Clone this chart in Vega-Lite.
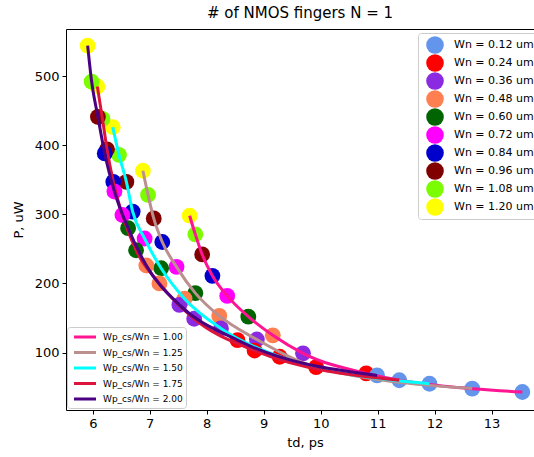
{
  "$schema": "https://vega.github.io/schema/vega-lite/v6.json",
  "autosize": {"type": "none"},
  "padding": {"left": 66, "top": 29, "right": 0, "bottom": 47},
  "width": 468,
  "height": 381,
  "background": "white",
  "config": {
    "font": "DejaVu Sans",
    "view": {"stroke": null},
    "axis": {"labelFontSize": 13, "titleFontSize": 13, "labelColor": "black", "titleColor": "black", "titleFontWeight": "normal", "tickColor": "black", "domainColor": "black", "tickSize": 4, "grid": false, "labelFont": "DejaVu Sans", "titleFont": "DejaVu Sans"}
  },
  "title": {"text": "# of NMOS fingers N = 1", "fontSize": 15, "fontWeight": "normal", "font": "DejaVu Sans", "color": "black", "offset": 8},
  "data": {"values": [
    {"s": "Wp_cs/Wn = 1.00", "wn": "Wn = 1.20 um", "td": 7.70, "p": 298},
    {"s": "Wp_cs/Wn = 1.00", "wn": "Wn = 1.08 um", "td": 7.80, "p": 271},
    {"s": "Wp_cs/Wn = 1.00", "wn": "Wn = 0.96 um", "td": 7.92, "p": 242},
    {"s": "Wp_cs/Wn = 1.00", "wn": "Wn = 0.84 um", "td": 8.10, "p": 211},
    {"s": "Wp_cs/Wn = 1.00", "wn": "Wn = 0.72 um", "td": 8.36, "p": 182},
    {"s": "Wp_cs/Wn = 1.00", "wn": "Wn = 0.60 um", "td": 8.73, "p": 152},
    {"s": "Wp_cs/Wn = 1.00", "wn": "Wn = 0.48 um", "td": 9.16, "p": 125},
    {"s": "Wp_cs/Wn = 1.00", "wn": "Wn = 0.36 um", "td": 9.69, "p": 99},
    {"s": "Wp_cs/Wn = 1.00", "wn": "Wn = 0.24 um", "td": 10.80, "p": 70},
    {"s": "Wp_cs/Wn = 1.00", "wn": "Wn = 0.12 um", "td": 13.54, "p": 43},
    {"s": "Wp_cs/Wn = 1.25", "wn": "Wn = 1.20 um", "td": 6.88, "p": 363},
    {"s": "Wp_cs/Wn = 1.25", "wn": "Wn = 1.08 um", "td": 6.97, "p": 328},
    {"s": "Wp_cs/Wn = 1.25", "wn": "Wn = 0.96 um", "td": 7.07, "p": 294},
    {"s": "Wp_cs/Wn = 1.25", "wn": "Wn = 0.84 um", "td": 7.22, "p": 260},
    {"s": "Wp_cs/Wn = 1.25", "wn": "Wn = 0.72 um", "td": 7.47, "p": 224},
    {"s": "Wp_cs/Wn = 1.25", "wn": "Wn = 0.60 um", "td": 7.80, "p": 186},
    {"s": "Wp_cs/Wn = 1.25", "wn": "Wn = 0.48 um", "td": 8.22, "p": 153},
    {"s": "Wp_cs/Wn = 1.25", "wn": "Wn = 0.36 um", "td": 8.88, "p": 119},
    {"s": "Wp_cs/Wn = 1.25", "wn": "Wn = 0.24 um", "td": 9.92, "p": 79},
    {"s": "Wp_cs/Wn = 1.25", "wn": "Wn = 0.12 um", "td": 12.66, "p": 48},
    {"s": "Wp_cs/Wn = 1.50", "wn": "Wn = 1.20 um", "td": 6.35, "p": 426},
    {"s": "Wp_cs/Wn = 1.50", "wn": "Wn = 1.08 um", "td": 6.46, "p": 386},
    {"s": "Wp_cs/Wn = 1.50", "wn": "Wn = 0.96 um", "td": 6.59, "p": 347},
    {"s": "Wp_cs/Wn = 1.50", "wn": "Wn = 0.84 um", "td": 6.70, "p": 304},
    {"s": "Wp_cs/Wn = 1.50", "wn": "Wn = 0.72 um", "td": 6.91, "p": 265},
    {"s": "Wp_cs/Wn = 1.50", "wn": "Wn = 0.60 um", "td": 7.20, "p": 222},
    {"s": "Wp_cs/Wn = 1.50", "wn": "Wn = 0.48 um", "td": 7.61, "p": 178},
    {"s": "Wp_cs/Wn = 1.50", "wn": "Wn = 0.36 um", "td": 8.25, "p": 135},
    {"s": "Wp_cs/Wn = 1.50", "wn": "Wn = 0.24 um", "td": 9.28, "p": 94},
    {"s": "Wp_cs/Wn = 1.50", "wn": "Wn = 0.12 um", "td": 11.91, "p": 55},
    {"s": "Wp_cs/Wn = 1.75", "wn": "Wn = 1.20 um", "td": 6.08, "p": 485},
    {"s": "Wp_cs/Wn = 1.75", "wn": "Wn = 1.08 um", "td": 6.17, "p": 438},
    {"s": "Wp_cs/Wn = 1.75", "wn": "Wn = 0.96 um", "td": 6.25, "p": 394},
    {"s": "Wp_cs/Wn = 1.75", "wn": "Wn = 0.84 um", "td": 6.36, "p": 347},
    {"s": "Wp_cs/Wn = 1.75", "wn": "Wn = 0.72 um", "td": 6.52, "p": 299},
    {"s": "Wp_cs/Wn = 1.75", "wn": "Wn = 0.60 um", "td": 6.76, "p": 248},
    {"s": "Wp_cs/Wn = 1.75", "wn": "Wn = 0.48 um", "td": 7.17, "p": 200},
    {"s": "Wp_cs/Wn = 1.75", "wn": "Wn = 0.36 um", "td": 7.78, "p": 149},
    {"s": "Wp_cs/Wn = 1.75", "wn": "Wn = 0.24 um", "td": 8.84, "p": 103},
    {"s": "Wp_cs/Wn = 1.75", "wn": "Wn = 0.12 um", "td": 11.38, "p": 60},
    {"s": "Wp_cs/Wn = 2.00", "wn": "Wn = 1.20 um", "td": 5.91, "p": 544},
    {"s": "Wp_cs/Wn = 2.00", "wn": "Wn = 1.08 um", "td": 5.98, "p": 492},
    {"s": "Wp_cs/Wn = 2.00", "wn": "Wn = 0.96 um", "td": 6.09, "p": 441},
    {"s": "Wp_cs/Wn = 2.00", "wn": "Wn = 0.84 um", "td": 6.21, "p": 388},
    {"s": "Wp_cs/Wn = 2.00", "wn": "Wn = 0.72 um", "td": 6.38, "p": 333},
    {"s": "Wp_cs/Wn = 2.00", "wn": "Wn = 0.60 um", "td": 6.62, "p": 280},
    {"s": "Wp_cs/Wn = 2.00", "wn": "Wn = 0.48 um", "td": 6.94, "p": 226},
    {"s": "Wp_cs/Wn = 2.00", "wn": "Wn = 0.36 um", "td": 7.52, "p": 169},
    {"s": "Wp_cs/Wn = 2.00", "wn": "Wn = 0.24 um", "td": 8.54, "p": 118},
    {"s": "Wp_cs/Wn = 2.00", "wn": "Wn = 0.12 um", "td": 10.99, "p": 67}
  ]},
  "resolve": {"axis": {"x": "independent", "y": "independent"}},
  "layer": [
    {
      "mark": {"type": "point", "shape": "circle", "filled": true, "size": 250, "opacity": 1},
      "encoding": {
        "x": {"field": "td", "type": "quantitative", "scale": {"domain": [5.53, 13.92], "range": [0, 478], "zero": false, "nice": false},
              "axis": {"title": "td, ps", "values": [6, 7, 8, 9, 10, 11, 12, 13], "titlePadding": 6, "labelPadding": 3}},
        "y": {"field": "p", "type": "quantitative", "scale": {"domain": [17, 568], "zero": false, "nice": false},
              "axis": {"title": "P, uW", "values": [100, 200, 300, 400, 500], "titlePadding": 9, "labelPadding": 3}},
        "fill": {"field": "wn", "type": "nominal",
                 "scale": {"domain": ["Wn = 0.12 um", "Wn = 0.24 um", "Wn = 0.36 um", "Wn = 0.48 um", "Wn = 0.60 um", "Wn = 0.72 um", "Wn = 0.84 um", "Wn = 0.96 um", "Wn = 1.08 um", "Wn = 1.20 um"],
                           "range": ["#6495ED", "#FF0000", "#8A2BE2", "#FF7F50", "#006400", "#FF00FF", "#0000CD", "#800000", "#7CFC00", "#FFFF00"]},
                 "legend": {"title": null, "orient": "none", "legendX": 352, "legendY": 4, "symbolType": "circle", "symbolSize": 310, "symbolStrokeWidth": 0, "symbolOpacity": 1, "symbolOffset": 5, "labelFontSize": 11, "labelFont": "DejaVu Sans", "labelColor": "black", "labelOffset": 10, "rowPadding": 0, "padding": 3, "strokeColor": "#cccccc", "fillColor": "white", "cornerRadius": 3, "labelLimit": 200}}
      }
    },
    {
      "mark": {"type": "line", "strokeWidth": 3, "interpolate": "monotone"},
      "encoding": {
        "x": {"field": "td", "type": "quantitative", "axis": {"orient": "top", "labels": false, "ticks": false, "title": null, "domain": true}},
        "y": {"field": "p", "type": "quantitative", "axis": {"orient": "right", "labels": false, "ticks": false, "title": null, "domain": false}},
        "stroke": {"field": "s", "type": "nominal",
                   "scale": {"domain": ["Wp_cs/Wn = 1.00", "Wp_cs/Wn = 1.25", "Wp_cs/Wn = 1.50", "Wp_cs/Wn = 1.75", "Wp_cs/Wn = 2.00"],
                             "range": ["#FF1493", "#BC8F8F", "#00FFFF", "#DC143C", "#4B0082"]},
                   "legend": {"title": null, "orient": "none", "legendX": 1, "legendY": 298, "symbolType": "M-2,0H2", "symbolSize": 121, "symbolStrokeWidth": 3, "symbolOffset": 8, "labelFontSize": 9, "labelFont": "DejaVu Sans", "labelColor": "black", "labelOffset": 11, "rowPadding": 2.5, "padding": 3, "strokeColor": "#cccccc", "fillColor": "white", "cornerRadius": 3}}
      }
    }
  ]
}
